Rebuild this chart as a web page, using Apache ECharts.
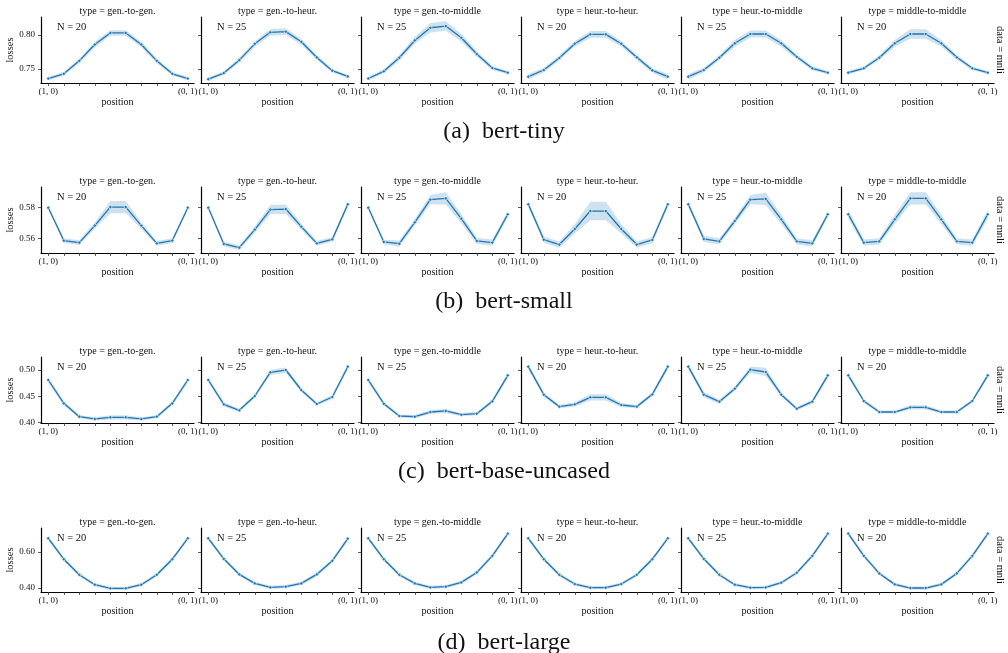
<!DOCTYPE html>
<html><head><meta charset="utf-8">
<script src="https://cdn.jsdelivr.net/npm/echarts@6/dist/echarts.min.js"></script>
<style>html,body{margin:0;padding:0;background:#fff}#c{width:1008px;height:653px}</style>
</head><body><div id="c"></div>
<script>
// ---------- data ----------
const types = ['gen.-to-gen.', 'gen.-to-heur.', 'gen.-to-middle', 'heur.-to-heur.', 'heur.-to-middle', 'middle-to-middle'];
const counts = ['N = 20', 'N = 25', 'N = 25', 'N = 20', 'N = 25', 'N = 20'];
const models = ['(a)  bert-tiny', '(b)  bert-small', '(c)  bert-base-uncased', '(d)  bert-large'];
const positions = [0, 1, 2, 3, 4, 5, 6, 7, 8, 9];
const positionLabels = {0: '(1, 0)', 9: '(0, 1)'};
const yTickValues = [[0.75, 0.80], [0.56, 0.58], [0.40, 0.45, 0.50], [0.40, 0.60]];

// mean losses, one row per type
const tinyLoss = [
  [0.736, 0.743, 0.762, 0.786, 0.803, 0.803, 0.786, 0.762, 0.743, 0.736],
  [0.735, 0.744, 0.763, 0.787, 0.804, 0.805, 0.790, 0.767, 0.7475, 0.739],
  [0.736, 0.7466, 0.7666, 0.792, 0.8107, 0.8132, 0.796, 0.772, 0.7515, 0.7446],
  [0.7387, 0.7485, 0.7662, 0.7872, 0.801, 0.801, 0.7872, 0.7672, 0.748, 0.7387],
  [0.7387, 0.7485, 0.7666, 0.7878, 0.8015, 0.8015, 0.7878, 0.768, 0.751, 0.7446],
  [0.7446, 0.751, 0.7666, 0.7878, 0.8015, 0.8015, 0.7878, 0.7672, 0.751, 0.7446]
];
const tinyCI = [
  [0.0025, 0.0025, 0.0035, 0.004, 0.004, 0.004, 0.004, 0.0035, 0.0025, 0.0025],
  [0.0025, 0.0025, 0.0035, 0.004, 0.005, 0.005, 0.004, 0.0035, 0.0025, 0.0025],
  [0.0025, 0.003, 0.004, 0.005, 0.007, 0.007, 0.006, 0.004, 0.003, 0.0025],
  [0.004, 0.0035, 0.0035, 0.004, 0.005, 0.005, 0.004, 0.0035, 0.0035, 0.004],
  [0.004, 0.0035, 0.0035, 0.005, 0.005, 0.005, 0.005, 0.0035, 0.003, 0.0025],
  [0.0025, 0.0025, 0.0035, 0.005, 0.007, 0.007, 0.005, 0.0035, 0.0025, 0.0025]
];
const smallLoss = [
  [0.580, 0.5585, 0.5572, 0.5683, 0.5804, 0.5804, 0.5683, 0.5567, 0.5585, 0.580],
  [0.580, 0.5563, 0.5539, 0.5657, 0.5787, 0.5791, 0.5676, 0.5567, 0.5593, 0.5822],
  [0.580, 0.5576, 0.5565, 0.5704, 0.5852, 0.5861, 0.5728, 0.5583, 0.5572, 0.5757],
  [0.5822, 0.5591, 0.5559, 0.5661, 0.5778, 0.5778, 0.5661, 0.5559, 0.5589, 0.5822],
  [0.5822, 0.5596, 0.558, 0.5713, 0.5852, 0.5857, 0.5724, 0.558, 0.5567, 0.5757],
  [0.5757, 0.5572, 0.558, 0.5724, 0.5861, 0.5861, 0.5724, 0.558, 0.5572, 0.5757]
];
const smallCI = [
  [0.001, 0.0015, 0.0015, 0.002, 0.004, 0.004, 0.002, 0.0015, 0.0015, 0.001],
  [0.001, 0.0015, 0.0015, 0.002, 0.003, 0.003, 0.002, 0.0015, 0.0015, 0.002],
  [0.001, 0.0015, 0.002, 0.002, 0.003, 0.004, 0.003, 0.002, 0.002, 0.002],
  [0.002, 0.002, 0.002, 0.003, 0.006, 0.006, 0.003, 0.002, 0.002, 0.002],
  [0.002, 0.002, 0.002, 0.002, 0.003, 0.004, 0.003, 0.002, 0.002, 0.002],
  [0.003, 0.002, 0.002, 0.003, 0.004, 0.004, 0.003, 0.002, 0.002, 0.003]
];
const baseLoss = [
  [0.4809, 0.4363, 0.4108, 0.4064, 0.4096, 0.4096, 0.4064, 0.4108, 0.4363, 0.4809],
  [0.4809, 0.4344, 0.4229, 0.4503, 0.4955, 0.500, 0.4618, 0.435, 0.4484, 0.5064],
  [0.4809, 0.4357, 0.4121, 0.4108, 0.4197, 0.4217, 0.4146, 0.4166, 0.4401, 0.4898],
  [0.5064, 0.4529, 0.430, 0.4344, 0.4478, 0.4478, 0.4331, 0.430, 0.4535, 0.5064],
  [0.5064, 0.4529, 0.4395, 0.4643, 0.5006, 0.4962, 0.4529, 0.4261, 0.4395, 0.4898],
  [0.4898, 0.4408, 0.4197, 0.4197, 0.4287, 0.4287, 0.4197, 0.4197, 0.4408, 0.4898]
];
const baseCI = [
  [0.005, 0.004, 0.003, 0.003, 0.004, 0.004, 0.003, 0.003, 0.004, 0.005],
  [0.005, 0.004, 0.003, 0.004, 0.005, 0.005, 0.004, 0.003, 0.004, 0.006],
  [0.005, 0.004, 0.003, 0.003, 0.004, 0.004, 0.003, 0.003, 0.004, 0.005],
  [0.006, 0.004, 0.003, 0.004, 0.006, 0.006, 0.004, 0.003, 0.004, 0.006],
  [0.006, 0.005, 0.004, 0.004, 0.006, 0.008, 0.004, 0.003, 0.004, 0.005],
  [0.005, 0.004, 0.003, 0.003, 0.004, 0.004, 0.003, 0.003, 0.004, 0.005]
];
const largeLoss = [
  [0.6752, 0.5596, 0.4734, 0.4183, 0.3982, 0.3982, 0.4183, 0.4734, 0.5596, 0.6752],
  [0.6752, 0.5615, 0.4752, 0.4257, 0.4037, 0.4073, 0.4257, 0.4752, 0.5505, 0.6734],
  [0.6752, 0.5596, 0.4734, 0.4257, 0.4037, 0.4073, 0.4312, 0.4862, 0.578, 0.7009],
  [0.6752, 0.5596, 0.4734, 0.422, 0.4018, 0.4018, 0.422, 0.4734, 0.5596, 0.6752],
  [0.6752, 0.5615, 0.4734, 0.4183, 0.4018, 0.4037, 0.4294, 0.4844, 0.578, 0.7009],
  [0.7009, 0.578, 0.4807, 0.4202, 0.400, 0.400, 0.4202, 0.4807, 0.578, 0.7009]
];
const largeCI = [
  [0.013, 0.011, 0.010, 0.009, 0.009, 0.009, 0.009, 0.010, 0.011, 0.013],
  [0.013, 0.011, 0.010, 0.009, 0.009, 0.009, 0.009, 0.010, 0.011, 0.013],
  [0.013, 0.011, 0.010, 0.009, 0.009, 0.009, 0.009, 0.010, 0.011, 0.013],
  [0.013, 0.011, 0.010, 0.009, 0.009, 0.009, 0.009, 0.010, 0.011, 0.013],
  [0.013, 0.011, 0.010, 0.009, 0.009, 0.009, 0.009, 0.010, 0.011, 0.013],
  [0.013, 0.011, 0.010, 0.009, 0.009, 0.009, 0.009, 0.010, 0.011, 0.013]
];
const allLoss = [tinyLoss, smallLoss, baseLoss, largeLoss];
const allCI = [tinyCI, smallCI, baseCI, largeCI];

// ---------- layout ----------
const FONT = '"Liberation Serif", "DejaVu Serif", serif';
const gridLeft0 = 41, gridStep = 160, gridW = 153;
const rowTop = [17, 187, 357, 528];
const rowH = [66, 66, 66, 64];
const yRange = [[0.7294, 0.8265], [0.5504, 0.5935], [0.3987, 0.5249], [0.378, 0.732]];
const captionY = [131, 301, 471, 642];
const xRange = [-0.47, 9.4];
const LINE = '#1f77b4';

function bandSeries(k, vals, ci) {
  const lower = positions.map((p, j) => [p, vals[j] - ci[j]]);
  const upper = positions.map((p, j) => [p, vals[j] + ci[j]]);
  return {
    type: 'custom', xAxisIndex: k, yAxisIndex: k, silent: true, z: 1, clip: true,
    data: upper.concat(lower),
    encode: {x: 0, y: 1},
    renderItem: function (params, api) {
      if (params.dataIndex !== 0) return null;
      const pts = upper.map(d => api.coord(d)).concat(lower.slice().reverse().map(d => api.coord(d)));
      return {type: 'polygon', shape: {points: pts}, style: {fill: 'rgba(31,119,180,0.22)', stroke: null}};
    }
  };
}

const grids = [], xAxes = [], yAxes = [], series = [], graphics = [];
for (let r = 0; r < 4; r++) {
  for (let c = 0; c < 6; c++) {
    const k = r * 6 + c;
    const left = gridLeft0 + c * gridStep;
    grids.push({left: left, top: rowTop[r], width: gridW, height: rowH[r], containLabel: false});
    xAxes.push({
      type: 'value', gridIndex: k, min: xRange[0], max: xRange[1],
      axisLine: {show: true, onZero: false, lineStyle: {color: '#000', width: 1.2}},
      axisTick: {show: true, length: 3, customValues: positions, lineStyle: {color: '#333', width: 0.8}},
      axisLabel: {show: true, customValues: [0, 9], margin: 4, color: '#111', fontFamily: FONT, fontSize: 9,
        formatter: v => positionLabels[Math.round(v)] || ''},
      splitLine: {show: false},
      name: 'position', nameLocation: 'middle', nameGap: 13,
      nameTextStyle: {fontFamily: FONT, fontSize: 10, color: '#111'}
    });
    yAxes.push({
      type: 'value', gridIndex: k, min: yRange[r][0], max: yRange[r][1],
      axisLine: {show: true, onZero: false, lineStyle: {color: '#000', width: 1.2}},
      axisTick: {show: true, length: 3, customValues: yTickValues[r], lineStyle: {color: '#333', width: 0.8}},
      axisLabel: {show: c === 0, customValues: yTickValues[r], margin: 6, color: '#111', fontFamily: FONT, fontSize: 9,
        formatter: v => v.toFixed(2)},
      splitLine: {show: false},
      name: c === 0 ? 'losses' : '', nameLocation: 'middle', nameGap: 20,
      nameTextStyle: {fontFamily: FONT, fontSize: 10.5, color: '#111'}
    });
    const vals = allLoss[r][c], ci = allCI[r][c];
    series.push(bandSeries(k, vals, ci));
    series.push({
      type: 'line', xAxisIndex: k, yAxisIndex: k, z: 3,
      symbol: 'circle', symbolSize: 3.2,
      lineStyle: {color: LINE, width: 1.3},
      itemStyle: {color: LINE, borderColor: '#fff', borderWidth: 0.6},
      data: positions.map((p, j) => [p, vals[j]])
    });
    graphics.push({type: 'text', x: left + gridW / 2, y: rowTop[r] - 6,
      style: {text: 'type = ' + types[c], font: '10px ' + FONT, fill: '#111', textAlign: 'center', textVerticalAlign: 'middle'}});
    graphics.push({type: 'text', x: left + 16, y: rowTop[r] + 10,
      style: {text: counts[c], font: '10.5px ' + FONT, fill: '#111', textAlign: 'left', textVerticalAlign: 'middle'}});
  }
  graphics.push({type: 'text', x: 1000, y: rowTop[r] + rowH[r] / 2, rotation: -Math.PI / 2,
    style: {text: 'data = mnli', font: '10.5px ' + FONT, fill: '#111', textAlign: 'center', textVerticalAlign: 'middle'}});
  graphics.push({type: 'text', x: 504, y: captionY[r] + 1,
    style: {text: models[r], font: '24px ' + FONT, fill: '#111', textAlign: 'center', textVerticalAlign: 'middle'}});
}

const chart = echarts.init(document.getElementById('c'), null, {renderer: 'canvas'});
chart.setOption({
  backgroundColor: '#fff', animation: false,
  grid: grids, xAxis: xAxes, yAxis: yAxes, series: series, graphic: graphics
});
</script></body></html>
